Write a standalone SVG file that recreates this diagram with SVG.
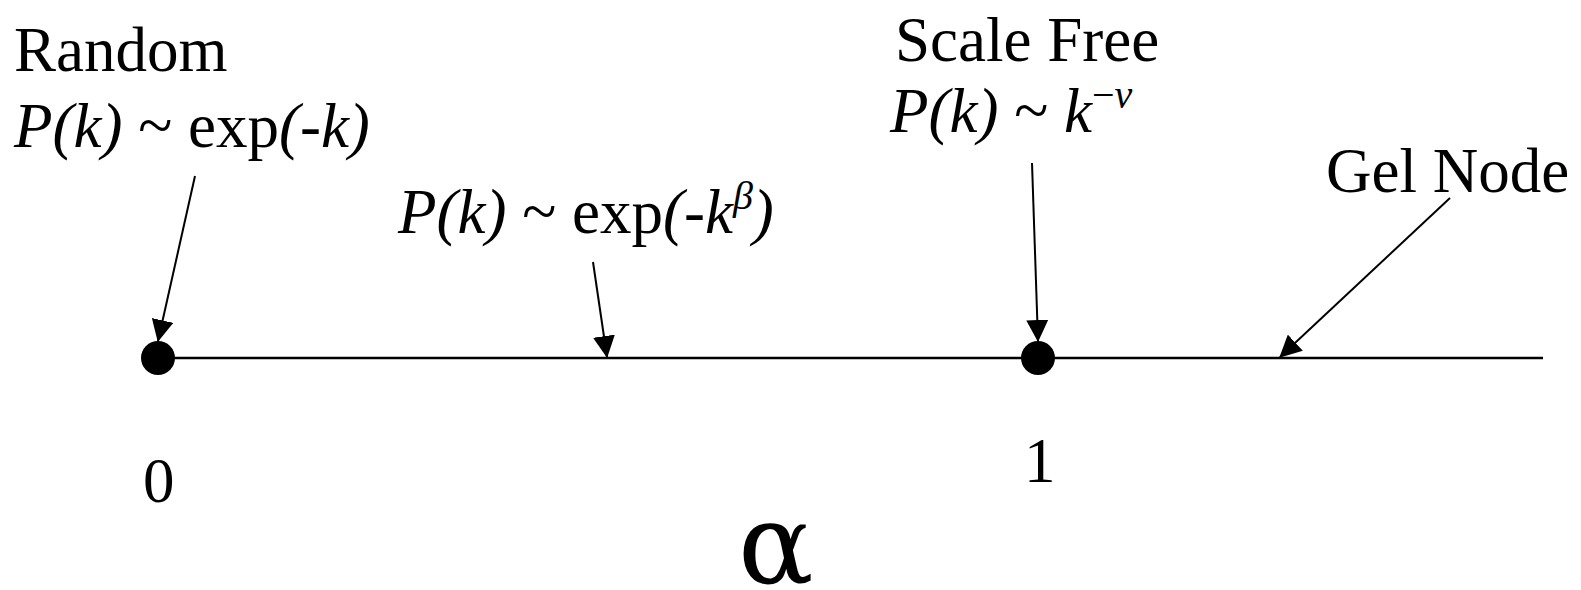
<svg xmlns="http://www.w3.org/2000/svg" width="1581" height="590" viewBox="0 0 1581 590">
<style>
text{font-family:"Liberation Serif","Times New Roman",serif;fill:#000;font-size:63px}
.i{font-style:italic}
.sup{font-size:40px}
.c{stroke:#000;stroke-width:2;fill:none}
</style>
<defs>
<marker id="ah" markerUnits="userSpaceOnUse" markerWidth="22" markerHeight="22" viewBox="0 0 22 22" refX="21" refY="11" orient="auto">
<path d="M0,0 L22,11 L0,22 Z" fill="#000"/>
</marker>
</defs>
<rect width="1581" height="590" fill="#fff"/>
<g id="axis">
<line x1="158" y1="358" x2="1543" y2="358" stroke="#000" stroke-width="2.5"/>
</g>
<g id="node-random">
<circle cx="158" cy="358" r="17" fill="#000"/>
<text x="14" y="71">Random</text>
<text x="14" y="147"><tspan class="i">P(k)</tspan> ~ exp<tspan class="i">(-k)</tspan></text>
<text x="143" y="502">0</text>
</g>
<g id="node-stretched">
<text x="398" y="233"><tspan class="i">P(k)</tspan> ~ exp<tspan class="i">(-k</tspan><tspan class="i sup" dy="-24">β</tspan><tspan class="i" dy="24">)</tspan></text>
</g>
<g id="node-scalefree">
<circle cx="1038" cy="358" r="17" fill="#000"/>
<text x="895" y="61">Scale Free</text>
<text x="890" y="132"><tspan class="i">P(k)</tspan> ~ <tspan class="i">k</tspan><tspan class="sup" dy="-24">−<tspan class="i">ν</tspan></tspan></text>
<text x="1024" y="482">1</text>
</g>
<g id="node-gel">
<text x="1326" y="192">Gel Node</text>
</g>
<g id="label-alpha">
<text x="738" y="583" style="font-family:'DejaVu Serif',serif;font-size:112px">α</text>
</g>
<g id="connectors">
<line class="c" x1="195" y1="176" x2="158" y2="341" marker-end="url(#ah)"/>
<line class="c" x1="593" y1="262" x2="607" y2="357" marker-end="url(#ah)"/>
<line class="c" x1="1032" y1="163" x2="1038" y2="341" marker-end="url(#ah)"/>
<line class="c" x1="1450" y1="198" x2="1280" y2="357" marker-end="url(#ah)"/>
</g>
</svg>
